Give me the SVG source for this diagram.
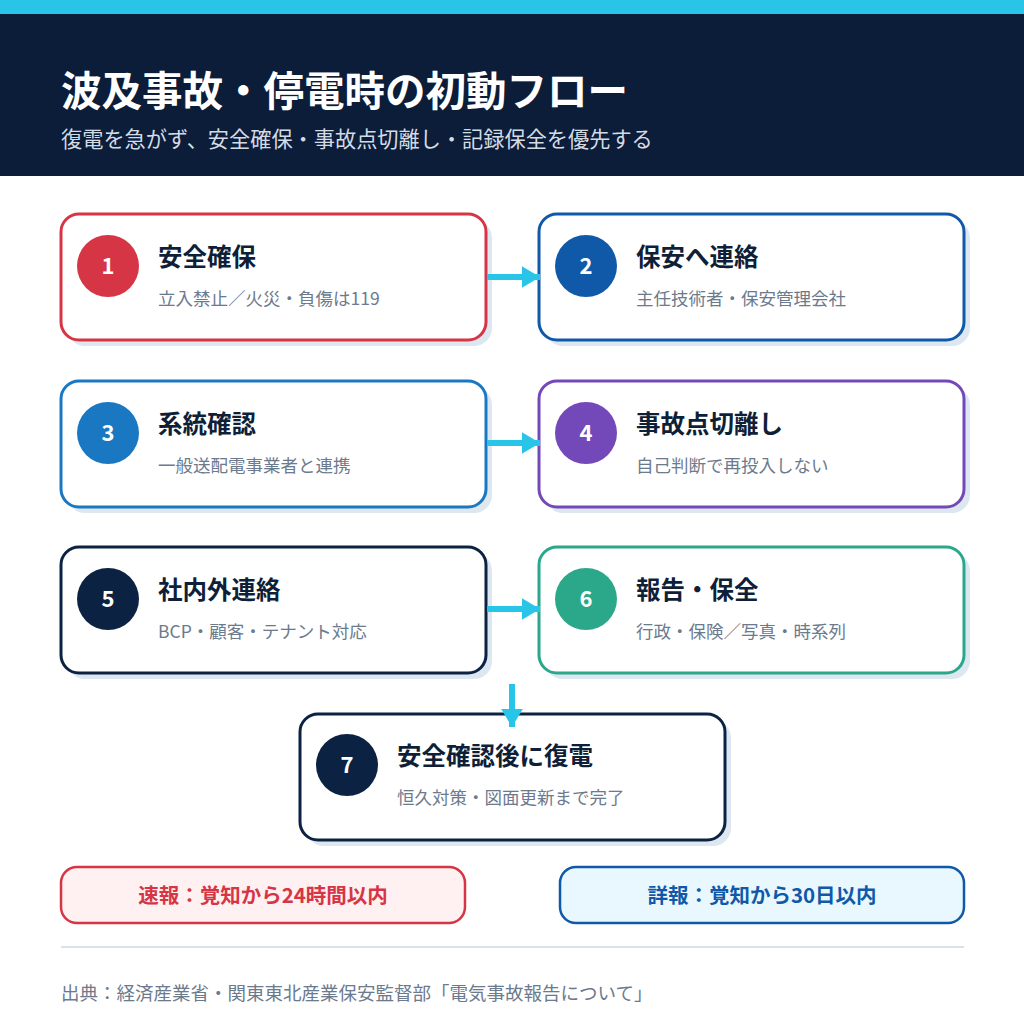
<svg xmlns="http://www.w3.org/2000/svg" width="1024" height="1024" viewBox="0 0 1024 1024">
<defs>
<style>
.t{font-family:"Noto Sans CJK JP","Noto Sans",sans-serif}
.card{fill:#ffffff;stroke-width:3}
.sh{fill:#dce7f1}
.h{font-size:24.5px;font-weight:700;fill:#0f1f38}
.s{font-size:17.5px;fill:#6b7a8d}
.n{font-size:22px;font-weight:700;fill:#ffffff;text-anchor:middle}
.conn{stroke:#29c5e8;stroke-width:6;fill:none}
</style>
<marker id="ah" viewBox="0 0 10 12" refX="10" refY="6" markerWidth="3" markerHeight="3.6" orient="auto" markerUnits="strokeWidth">
<path d="M0,0 L10,6 L0,12 Z" fill="#29c5e8"/>
</marker>
</defs>
<rect width="1024" height="1024" fill="#ffffff"/>
<rect x="0" y="0" width="1024" height="14" fill="#29c5e8"/>
<rect x="0" y="14" width="1024" height="162" fill="#0b1d38"/>
<text class="t" x="61" y="106" font-size="40.5" font-weight="700" fill="#ffffff">波及事故・停電時の初動フロー</text>
<text class="t" x="61" y="147" font-size="21.2" fill="#d3dbe5">復電を急がず、安全確保・事故点切離し・記録保全を優先する</text>

<g id="node1">
<rect class="sh" x="67" y="220" width="425" height="126" rx="18"/>
<rect class="card" x="61" y="214" width="425" height="126" rx="18" stroke="#d63545"/>
<circle cx="108" cy="266" r="31" fill="#d63545"/>
<text class="t n" x="108" y="274">1</text>
<text class="t h" x="158" y="266">安全確保</text>
<text class="t s" x="158" y="305">立入禁止／火災・負傷は119</text>
</g>
<g id="node2">
<rect class="sh" x="545" y="220" width="425" height="126" rx="18"/>
<rect class="card" x="539" y="214" width="425" height="126" rx="18" stroke="#1059a8"/>
<circle cx="586" cy="266" r="31" fill="#1059a8"/>
<text class="t n" x="586" y="274">2</text>
<text class="t h" x="636" y="266">保安へ連絡</text>
<text class="t s" x="636" y="305">主任技術者・保安管理会社</text>
</g>
<g id="node3">
<rect class="sh" x="67" y="387" width="425" height="126" rx="18"/>
<rect class="card" x="61" y="381" width="425" height="126" rx="18" stroke="#1a78c2"/>
<circle cx="108" cy="433" r="31" fill="#1a78c2"/>
<text class="t n" x="108" y="441">3</text>
<text class="t h" x="158" y="433">系統確認</text>
<text class="t s" x="158" y="472">一般送配電事業者と連携</text>
</g>
<g id="node4">
<rect class="sh" x="545" y="387" width="425" height="126" rx="18"/>
<rect class="card" x="539" y="381" width="425" height="126" rx="18" stroke="#7348b8"/>
<circle cx="586" cy="433" r="31" fill="#7348b8"/>
<text class="t n" x="586" y="441">4</text>
<text class="t h" x="636" y="433">事故点切離し</text>
<text class="t s" x="636" y="472">自己判断で再投入しない</text>
</g>
<g id="node5">
<rect class="sh" x="67" y="553" width="425" height="126" rx="18"/>
<rect class="card" x="61" y="547" width="425" height="126" rx="18" stroke="#0c2242"/>
<circle cx="108" cy="599" r="31" fill="#0c2242"/>
<text class="t n" x="108" y="607">5</text>
<text class="t h" x="158" y="599">社内外連絡</text>
<text class="t s" x="158" y="638">BCP・顧客・テナント対応</text>
</g>
<g id="node6">
<rect class="sh" x="545" y="553" width="425" height="126" rx="18"/>
<rect class="card" x="539" y="547" width="425" height="126" rx="18" stroke="#2aa889"/>
<circle cx="586" cy="599" r="31" fill="#2aa889"/>
<text class="t n" x="586" y="607">6</text>
<text class="t h" x="636" y="599">報告・保全</text>
<text class="t s" x="636" y="638">行政・保険／写真・時系列</text>
</g>
<g id="node7">
<rect class="sh" x="306" y="720" width="425" height="126" rx="18"/>
<rect class="card" x="300" y="714" width="425" height="126" rx="18" stroke="#0c2242"/>
<circle cx="347" cy="765" r="31" fill="#0c2242"/>
<text class="t n" x="347" y="773">7</text>
<text class="t h" x="397" y="765">安全確認後に復電</text>
<text class="t s" x="397" y="804">恒久対策・図面更新まで完了</text>
</g>

<g id="connectors">
<line class="conn" x1="487" y1="277" x2="540" y2="277" marker-end="url(#ah)"/>
<line class="conn" x1="487" y1="443" x2="540" y2="443" marker-end="url(#ah)"/>
<line class="conn" x1="487" y1="609" x2="540" y2="609" marker-end="url(#ah)"/>
<line class="conn" x1="512" y1="684" x2="512" y2="727" marker-end="url(#ah)"/>
</g>

<g id="note1">
<rect x="61" y="867" width="404" height="56" rx="16" fill="#fff0f1" stroke="#d63545" stroke-width="2.5"/>
<text class="t" x="263" y="903" font-size="20.5" font-weight="700" fill="#d63545" text-anchor="middle">速報：覚知から24時間以内</text>
</g>
<g id="note2">
<rect x="560" y="867" width="404" height="56" rx="16" fill="#e9f7fe" stroke="#1059a8" stroke-width="2.5"/>
<text class="t" x="762" y="903" font-size="20.5" font-weight="700" fill="#1059a8" text-anchor="middle">詳報：覚知から30日以内</text>
</g>
<line x1="61" y1="947" x2="964" y2="947" stroke="#d5e3ee" stroke-width="2"/>
<text class="t" x="61" y="1000" font-size="18.5" fill="#6b7a8d">出典：経済産業省・関東東北産業保安監督部「電気事故報告について」</text>
</svg>
